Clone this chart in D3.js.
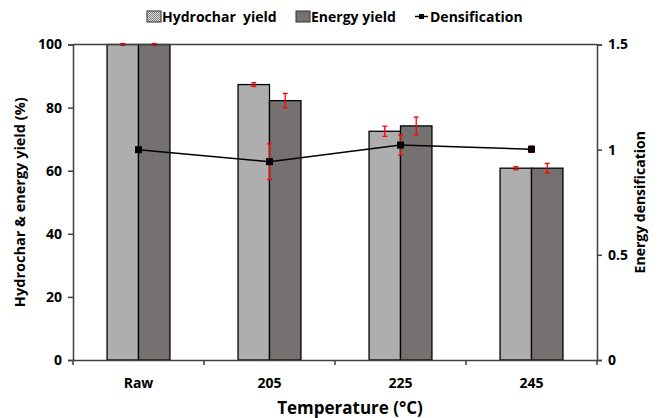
<!DOCTYPE html>
<html>
<head>
<meta charset="utf-8">
<script src="https://cdn.jsdelivr.net/npm/d3@7"></script>
<style>
  body { margin: 0; background: #fff; }
  text { font-family: "Open Sans", sans-serif; font-weight: 700; fill: #000; }
</style>
</head>
<body>
<div id="chart"></div>
<script>
// data
var categories = ["Raw", "205", "225", "245"];
var hydrocharYield = [100, 87.3, 72.5, 60.8];
var hydrocharErr = [0.3, 0.6, 1.6, 0.5];
var energyYield = [100, 82.2, 74.2, 60.8];
var energyErr = [0.3, 2.3, 2.8, 1.5];
var densification = [1.0, 0.943, 1.022, 1.002];
var densErr = [0, 0.085, 0.048, 0.015];
var leftTicks = [0, 20, 40, 60, 80, 100];
var rightTicks = [0, 0.5, 1, 1.5];

var W = 658, H = 418;
var margin = {top: 44.5, right: 61, bottom: 58, left: 73};
var width = W - margin.left - margin.right,
    height = H - margin.top - margin.bottom;

var svg = d3.select("#chart").append("svg").attr("width", W).attr("height", H);

// hatch pattern for hydrochar bars
var defs = svg.append("defs");
var pat = defs.append("pattern").attr("id", "hatch").attr("patternUnits", "userSpaceOnUse")
  .attr("width", 2).attr("height", 2);
pat.append("rect").attr("width", 2).attr("height", 2).attr("fill", "#e0e0e0");
pat.append("rect").attr("width", 1).attr("height", 1).attr("fill", "#7c7c7c");
pat.append("rect").attr("x", 1).attr("y", 1).attr("width", 1).attr("height", 1).attr("fill", "#7c7c7c");

var g = svg.append("g").attr("transform", "translate(" + margin.left + "," + margin.top + ")");

var x = d3.scaleBand().domain(categories).range([0, width]).paddingInner(0).paddingOuter(0);
var barW = x.bandwidth() * 0.24;
var y = d3.scaleLinear().domain([0, 100]).range([height, 0]);
var y2 = d3.scaleLinear().domain([0, 1.5]).range([height, 0]);

function cx(c) { return x(c) + x.bandwidth() / 2; }

// bars
g.selectAll(".hb").data(categories).enter().append("rect")
  .attr("x", function(d) { return cx(d) - barW; })
  .attr("y", function(d, i) { return y(hydrocharYield[i]); })
  .attr("width", barW)
  .attr("height", function(d, i) { return height - y(hydrocharYield[i]); })
  .attr("fill", "url(#hatch)").attr("stroke", "#000").attr("stroke-width", 1.3);

g.selectAll(".eb").data(categories).enter().append("rect")
  .attr("x", function(d) { return cx(d); })
  .attr("y", function(d, i) { return y(energyYield[i]); })
  .attr("width", barW)
  .attr("height", function(d, i) { return height - y(energyYield[i]); })
  .attr("fill", "#767171").attr("stroke", "#000").attr("stroke-width", 1.3);

// error bars
function errBars(xs, vals, errs, sc) {
  var eg = g.append("g").attr("stroke", "#ff0000").attr("stroke-width", 1.3);
  categories.forEach(function(c, i) {
    var xx = xs(c), lo = sc(vals[i] - errs[i]), hi = sc(vals[i] + errs[i]);
    if (errs[i] <= 0) return;
    eg.append("line").attr("x1", xx).attr("x2", xx).attr("y1", lo).attr("y2", hi);
    eg.append("line").attr("x1", xx - 2.5).attr("x2", xx + 2.5).attr("y1", lo).attr("y2", lo);
    eg.append("line").attr("x1", xx - 2.5).attr("x2", xx + 2.5).attr("y1", hi).attr("y2", hi);
  });
}
errBars(function(c) { return cx(c) - barW / 2; }, hydrocharYield, hydrocharErr, y);
errBars(function(c) { return cx(c) + barW / 2; }, energyYield, energyErr, y);

// frame top line
g.append("line").attr("x1", 0).attr("x2", width).attr("y1", 0).attr("y2", 0)
  .attr("stroke", "#404040").attr("stroke-width", 1.5);

// axes
var yAx = g.append("g").call(d3.axisLeft(y).tickValues(leftTicks).tickSize(5).tickPadding(6));
var y2Ax = g.append("g").attr("transform", "translate(" + width + ",0)")
  .call(d3.axisRight(y2).tickValues(rightTicks).tickFormat(d3.format("")).tickSize(5).tickPadding(6));
var xAx = g.append("g").attr("transform", "translate(0," + height + ")")
  .call(d3.axisBottom(x).tickSize(0).tickPadding(18));
// category boundary ticks
g.append("g").selectAll("line").data(d3.range(categories.length + 1)).enter().append("line")
  .attr("x1", function(i) { return i * x.step(); }).attr("x2", function(i) { return i * x.step(); })
  .attr("y1", height).attr("y2", height + 5).attr("stroke", "#404040").attr("stroke-width", 1.5);

[yAx, y2Ax, xAx].forEach(function(a) {
  a.selectAll("path, line").attr("stroke", "#404040").attr("stroke-width", 1.5);
  a.selectAll("text").style("font-size", "14px").style("font-family", "Open Sans").style("font-weight", 700);
});

// densification line
var line = d3.line().x(function(d, i) { return cx(categories[i]); }).y(function(d) { return y2(d); });
g.append("path").datum(densification).attr("d", line).attr("fill", "none")
  .attr("stroke", "#000").attr("stroke-width", 1.5);
errBars(cx, densification, densErr, y2);
g.selectAll(".dm").data(densification).enter().append("rect")
  .attr("x", function(d, i) { return cx(categories[i]) - 3.5; })
  .attr("y", function(d) { return y2(d) - 3.5; })
  .attr("width", 7).attr("height", 7).attr("fill", "#000");

// axis titles
svg.append("text").attr("transform", "translate(25," + (margin.top + height / 2) + ") rotate(-90)")
  .attr("text-anchor", "middle").style("font-size", "14.5px").text("Hydrochar & energy yield (%)");
svg.append("text").attr("transform", "translate(645," + (margin.top + height / 2) + ") rotate(-90)")
  .attr("text-anchor", "middle").style("font-size", "14px").text("Energy densification");
svg.append("text").attr("x", 350).attr("y", 414)
  .attr("text-anchor", "middle").style("font-size", "17px").text("Temperature (°C)");

// legend
var lg = svg.append("g").style("font-size", "14px");
lg.append("rect").attr("x", 147).attr("y", 11).attr("width", 14).attr("height", 11)
  .attr("fill", "url(#hatch)").attr("stroke", "#333");
lg.append("text").attr("x", 162).attr("y", 22).attr("xml:space", "preserve").text("Hydrochar  yield");
lg.append("rect").attr("x", 296).attr("y", 11).attr("width", 14).attr("height", 11)
  .attr("fill", "#767171").attr("stroke", "#333");
lg.append("text").attr("x", 311).attr("y", 22).text("Energy yield");
lg.append("line").attr("x1", 415).attr("x2", 428).attr("y1", 16.5).attr("y2", 16.5)
  .attr("stroke", "#000").attr("stroke-width", 1.5);
lg.append("rect").attr("x", 419).attr("y", 14).attr("width", 5).attr("height", 5).attr("fill", "#000");
lg.append("text").attr("x", 430).attr("y", 22).text("Densification");
</script>
</body>
</html>
